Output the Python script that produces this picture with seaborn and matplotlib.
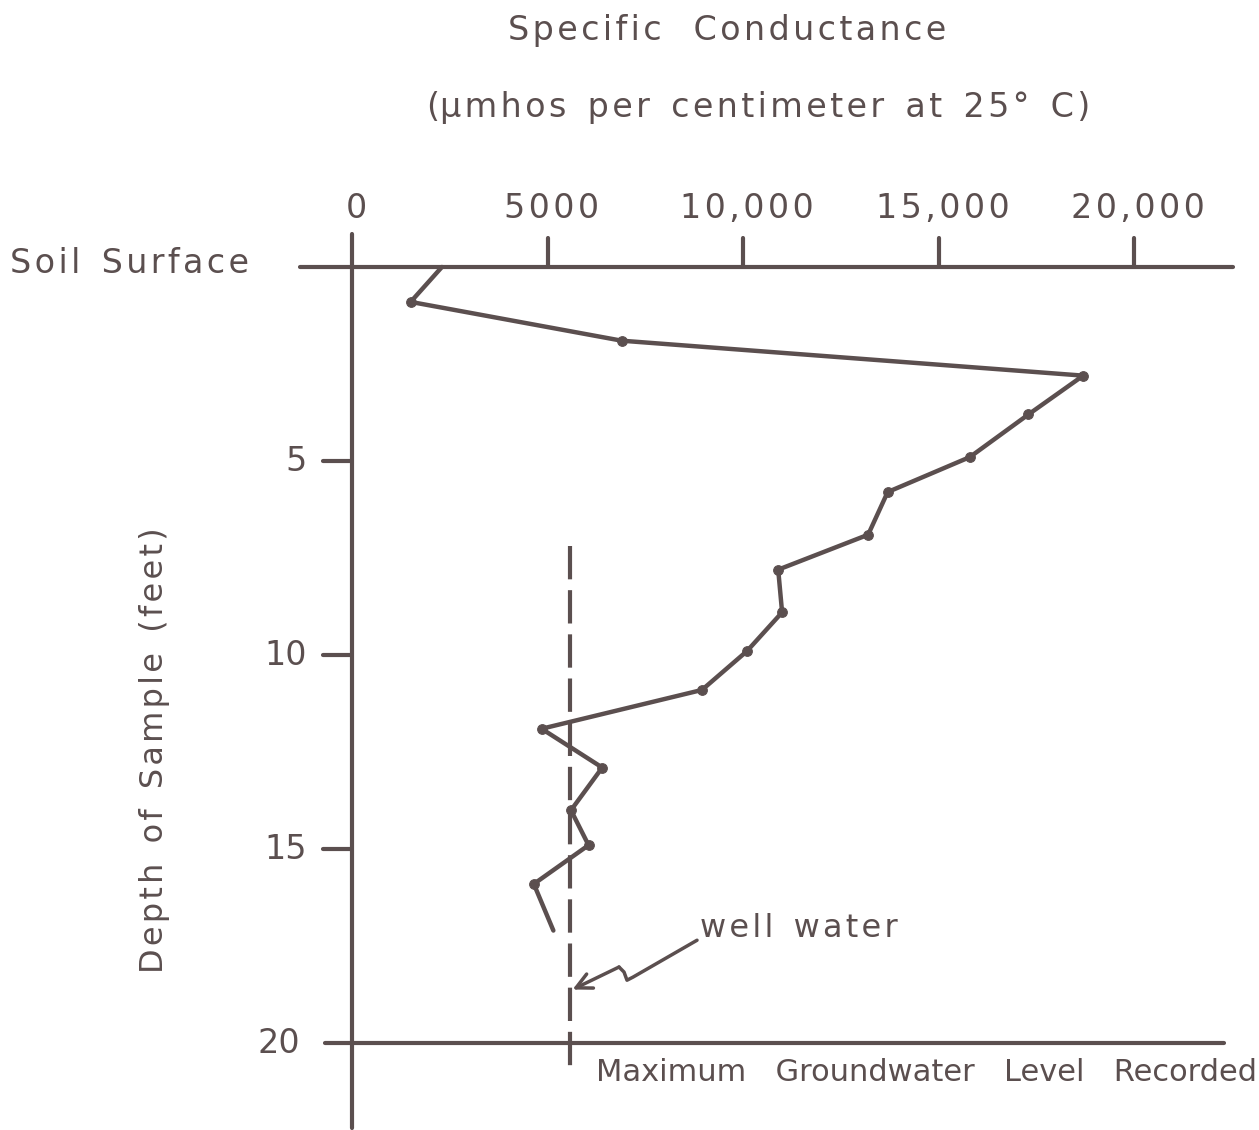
import numpy as np
import pandas as pd
import seaborn as sns
import matplotlib.pyplot as plt

# values
depth_ft = [0.0, 0.9, 1.9, 2.8, 3.8, 4.9, 5.8, 6.9, 7.8, 8.9, 9.9, 10.9,
            11.9, 12.9, 14.0, 14.9, 15.9, 17.1]
conductance = [2300, 1500, 6900, 18700, 17300, 15800, 13700, 13200, 10900, 11000, 10100, 8950,
               4850, 6400, 5600, 6050, 4650, 5150]
x_ticks = [0, 5000, 10000, 15000, 20000]
x_tick_labels = ["0", "5000", "10,000", "15,000", "20,000"]
y_ticks = [5, 10, 15, 20]
y_tick_labels = ["5", "10", "15", "20"]
max_groundwater = 5580          # dashed line position
dash_top, dash_bottom = 7.2, 20.8

ink = "#5b4f4f"
sns.set_theme(style="white")
plt.rcParams["font.family"] = ["DejaVu Sans"]


def spaced(s):
    # hand lettering is loosely spaced
    return "\u200a".join(s)


df = pd.DataFrame({"depth": depth_ft, "cond": conductance})

fig = plt.figure(figsize=(12.59, 11.30), dpi=100)
ax = fig.add_axes([0, 0, 1, 1])
ax.set_xlim(-9003, 23197)
ax.set_ylim(22.24, -6.88)
ax.axis("off")

# profile
sns.lineplot(data=df, x="cond", y="depth", sort=False, ax=ax, color=ink, lw=3.2,
             marker="o", markersize=7, markevery=list(range(1, len(df) - 1)),
             markeredgecolor=ink)

# axes drawn like the original
ax.plot([-1330, 22540], [0, 0], color=ink, lw=3)
ax.plot([-690, 22300], [20, 20], color=ink, lw=3)
ax.plot([0, 0], [-0.85, 22.2], color=ink, lw=3)
fs = 24
for xt, lab in zip(x_ticks, x_tick_labels):
    if xt > 0:
        ax.plot([xt, xt], [0, -0.75], color=ink, lw=3)
    ax.text(xt + 100, -1.5, spaced(lab), ha="center", va="center", fontsize=fs, color=ink)
for yt, lab in zip(y_ticks, y_tick_labels):
    if yt < 20:
        ax.plot([-740, 0], [yt, yt], color=ink, lw=3)
    ax.text(-1150 if yt < 20 else -1330, yt, lab, ha="right", va="center",
            fontsize=fs, color=ink)

ax.plot([max_groundwater, max_groundwater], [dash_top, dash_bottom], color=ink, lw=3,
        dashes=(8, 2.6))

ax.text(9600, -6.1, spaced("Specific") + "   " + spaced("Conductance"),
        ha="center", va="center", fontsize=fs, color=ink)
ax.text(10400, -4.1, "(" + "  ".join(spaced(w) for w in
                                     ["\u03bcmhos", "per", "centimeter", "at", "25\u00b0", "C)"]),
        ha="center", va="center", fontsize=fs, color=ink)
ax.text(-8750, -0.08, spaced("Soil") + "  " + spaced("Surface"), ha="left", va="center",
        fontsize=fs, color=ink)
ax.text(-5040, 12.45, "  ".join(spaced(w) for w in ["Depth", "of", "Sample", "(feet)"]),
        ha="center", va="center", rotation=90, fontsize=23, color=ink)
ax.text(6240, 20.75, "   ".join(["Maximum", "Groundwater", "Level", "Recorded"]),
        ha="left", va="center", fontsize=22, color=ink)

# hand-drawn squiggly pointer to the well water level
ax.text(8900, 17.05, spaced("well") + "  " + spaced("water"), ha="left", va="center",
        fontsize=23, color=ink)
ax.plot([8824, 7187, 7033, 6957, 6829], [17.35, 18.30, 18.38, 18.17, 18.04],
        color=ink, lw=2.5, solid_capstyle="round", solid_joinstyle="round")
ax.annotate("", xy=(max_groundwater + 60, 18.62), xytext=(6829, 18.04),
            arrowprops=dict(arrowstyle="->", color=ink, lw=2.5, shrinkA=0, shrinkB=0,
                            mutation_scale=28))

fig.savefig("out.png", dpi=100, facecolor="white")
